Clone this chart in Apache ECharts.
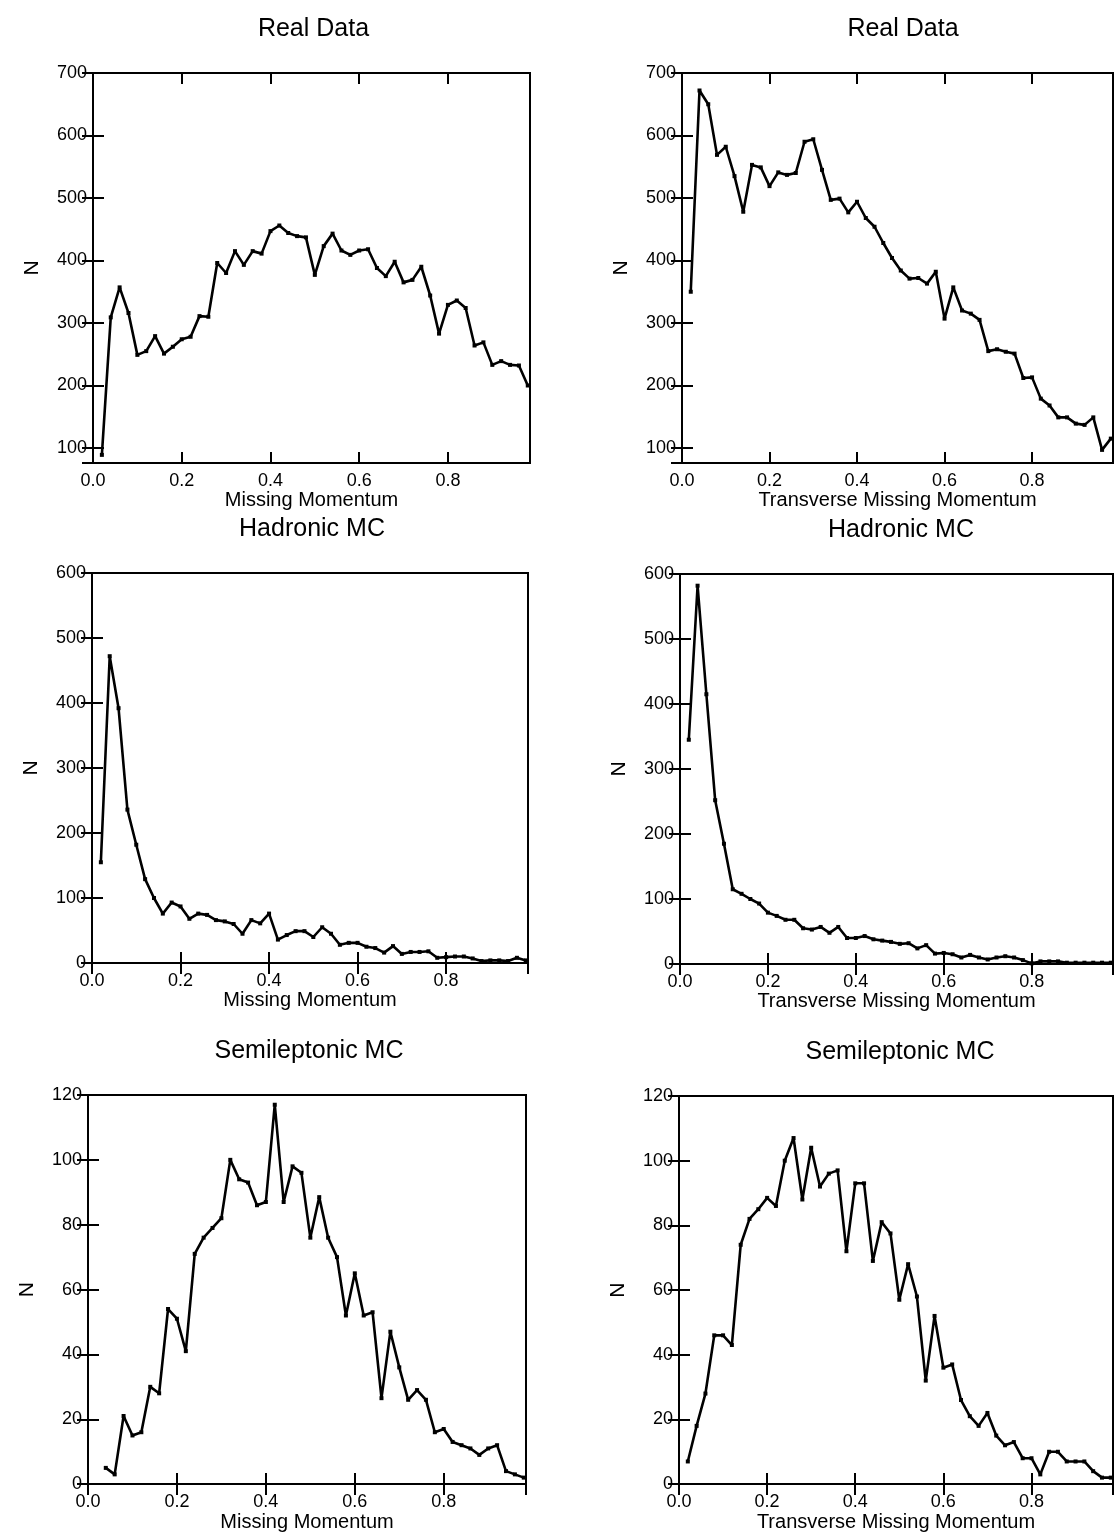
<!DOCTYPE html>
<html>
<head>
<meta charset="utf-8">
<script src="https://cdn.jsdelivr.net/npm/echarts@6/dist/echarts.min.js"></script>
<style>
  html, body { margin: 0; padding: 0; background: #ffffff; }
  #chart { width: 1116px; height: 1533px; }
</style>
</head>
<body>
<div id="chart"></div>
<script>
// ---------------- DATA ----------------
const momentum = [0.02,0.04,0.06,0.08,0.10,0.12,0.14,0.16,0.18,0.20,
                  0.22,0.24,0.26,0.28,0.30,0.32,0.34,0.36,0.38,0.40,
                  0.42,0.44,0.46,0.48,0.50,0.52,0.54,0.56,0.58,0.60,
                  0.62,0.64,0.66,0.68,0.70,0.72,0.74,0.76,0.78,0.80,
                  0.82,0.84,0.86,0.88,0.90,0.92,0.94,0.96,0.98];

const realMissing = [89,309,357,316,249,255,279,251,262,274,
                     278,311,310,396,380,415,393,415,411,447,
                     456,444,439,437,377,423,443,416,409,416,
                     418,388,375,398,365,369,390,344,283,329,
                     336,324,264,269,233,239,233,232,200];

const realTransverse = [350,672,650,569,582,535,478,553,549,519,
                        541,537,540,590,594,545,497,499,477,494,
                        468,454,428,404,384,371,372,363,382,307,
                        357,320,315,305,255,258,254,251,212,213,
                        179,168,149,149,139,137,149,97,115];

const hadronicMissing = [155,472,392,236,182,129,100,76,93,87,
                         68,76,74,66,64,60,45,66,61,76,
                         36,43,49,49,40,55,45,28,31,31,
                         25,23,16,26,14,17,17,18,8,9,
                         10,10,7,3,4,4,3,8,4];

const hadronicTransverse = [345,582,415,252,185,115,108,100,93,79,
                            74,68,68,55,53,57,48,57,40,40,
                            43,38,36,34,31,32,24,29,16,17,
                            15,10,14,10,7,10,12,10,6,1,
                            4,4,4,2,2,2,2,2,2];

const semiMissing = [null,5,3,21,15,16,30,28,54,51,
                     41,71,76,79,82,100,94,93,86,87,
                     117,87,98,96,76,88.5,76,70,52,65,
                     52,53,26.5,47,36,26,29,26,16,17,
                     13,12,11,9,11,12,4,3,2];

const semiTransverse = [7,18,28,46,46,43,74,82,85,88.5,
                        86,100,107,88,104,92,96,97,72,93,
                        93,69,81,77.5,57,68,58,32,52,36,
                        37,26,21,18,22,15,12,13,8,8,
                        3,10,10,7,7,7,4,2,2];

const titles = ['Real Data','Real Data','Hadronic MC','Hadronic MC','Semileptonic MC','Semileptonic MC'];
const xNames = ['Missing Momentum','Transverse Missing Momentum',
                'Missing Momentum','Transverse Missing Momentum',
                'Missing Momentum','Transverse Missing Momentum'];
const yName = 'N';
const xTicks = [0.0, 0.2, 0.4, 0.6, 0.8];
const yRanges = [[76,700,100],[76,700,100],[0,600,100],[0,600,100],[0,120,20],[0,120,20]];
const seriesValues = [realMissing, realTransverse, hadronicMissing, hadronicTransverse, semiMissing, semiTransverse];

// ---------------- LAYOUT ----------------
const layout = [
  {left: 93,  top: 73,   width: 437, height: 390},
  {left: 682, top: 73,   width: 438, height: 390},
  {left: 92,  top: 573,  width: 436, height: 390},
  {left: 680, top: 574,  width: 438, height: 390},
  {left: 88,  top: 1095, width: 438, height: 391},
  {left: 679, top: 1096, width: 438, height: 391}
];
const XMAX = 0.985;
const FONT = '"Liberation Sans", Arial, Helvetica, sans-serif';

const grids = [], xAxes = [], yAxes = [], series = [], titleList = [];

function isMult(v, step) {
  const r = v / step;
  return Math.abs(r - Math.round(r)) < 1e-6;
}

layout.forEach((g, i) => {
  grids.push({left: g.left, top: g.top, width: g.width, height: g.height,
              show: true, borderColor: '#000', borderWidth: 2, backgroundColor: 'transparent'});
  titleList.push({
    text: titles[i], left: g.left + g.width / 2 + 2, top: g.top - 56, textAlign: 'center', padding: 0,
    textStyle: {fontFamily: FONT, fontSize: 25, fontWeight: 'normal', color: '#000'}
  });
  const tick = {show: true, inside: true, length: 11, lineStyle: {color: '#000', width: 2}};
  const line = {show: true, lineStyle: {color: '#000', width: 2}};
  // bottom x
  xAxes.push({
    gridIndex: i, type: 'value', position: 'bottom', min: 0, max: XMAX, interval: 0.2,
    axisLine: line, axisTick: tick, splitLine: {show: false},
    name: xNames[i], nameLocation: 'middle', nameGap: 22,
    nameTextStyle: {fontFamily: FONT, fontSize: 20, color: '#000'},
    axisLabel: {show: true, margin: 9, fontFamily: FONT, fontSize: 18, color: '#000',
      formatter: v => (isMult(v, 0.2) && xTicks.some(t => Math.abs(t - v) < 1e-6)) ? v.toFixed(1) : ''}
  });
  // top x
  xAxes.push({
    gridIndex: i, type: 'value', position: 'top', min: 0, max: XMAX, interval: 0.2,
    axisLine: line, axisTick: tick, splitLine: {show: false}, axisLabel: {show: false}
  });
  const [ymin, ymax, ystep] = yRanges[i];
  const yCommon = ymin % ystep === 0 ? {min: ymin, max: ymax, interval: ystep} : {min: ymin, max: ymax, splitNumber: 6};
  yAxes.push(Object.assign({
    gridIndex: i, type: 'value', position: 'left',
    axisLine: line, axisTick: tick, splitLine: {show: false},
    name: yName, nameLocation: 'middle', nameGap: 50,
    nameTextStyle: {fontFamily: FONT, fontSize: 21, color: '#000'},
    axisLabel: {show: true, margin: 6, fontFamily: FONT, fontSize: 18, color: '#000',
      formatter: v => isMult(v, ystep) ? String(v) : ''}
  }, yCommon));
  yAxes.push(Object.assign({
    gridIndex: i, type: 'value', position: 'right',
    axisLine: line, axisTick: tick, splitLine: {show: false}, axisLabel: {show: false}
  }, yCommon));
  series.push({
    type: 'line', xAxisIndex: 2 * i, yAxisIndex: 2 * i,
    data: momentum.map((x, k) => [x, seriesValues[i][k]]),
    symbol: 'rect', symbolSize: 4, showSymbol: true,
    lineStyle: {color: '#000', width: 2.6}, itemStyle: {color: '#000'},
    clip: true, silent: true
  });
});

const chart = echarts.init(document.getElementById('chart'), null, {renderer: 'canvas'});
chart.setOption({
  animation: false,
  backgroundColor: '#ffffff',
  title: titleList,
  grid: grids,
  xAxis: xAxes,
  yAxis: yAxes,
  series: series
});
</script>
</body>
</html>
